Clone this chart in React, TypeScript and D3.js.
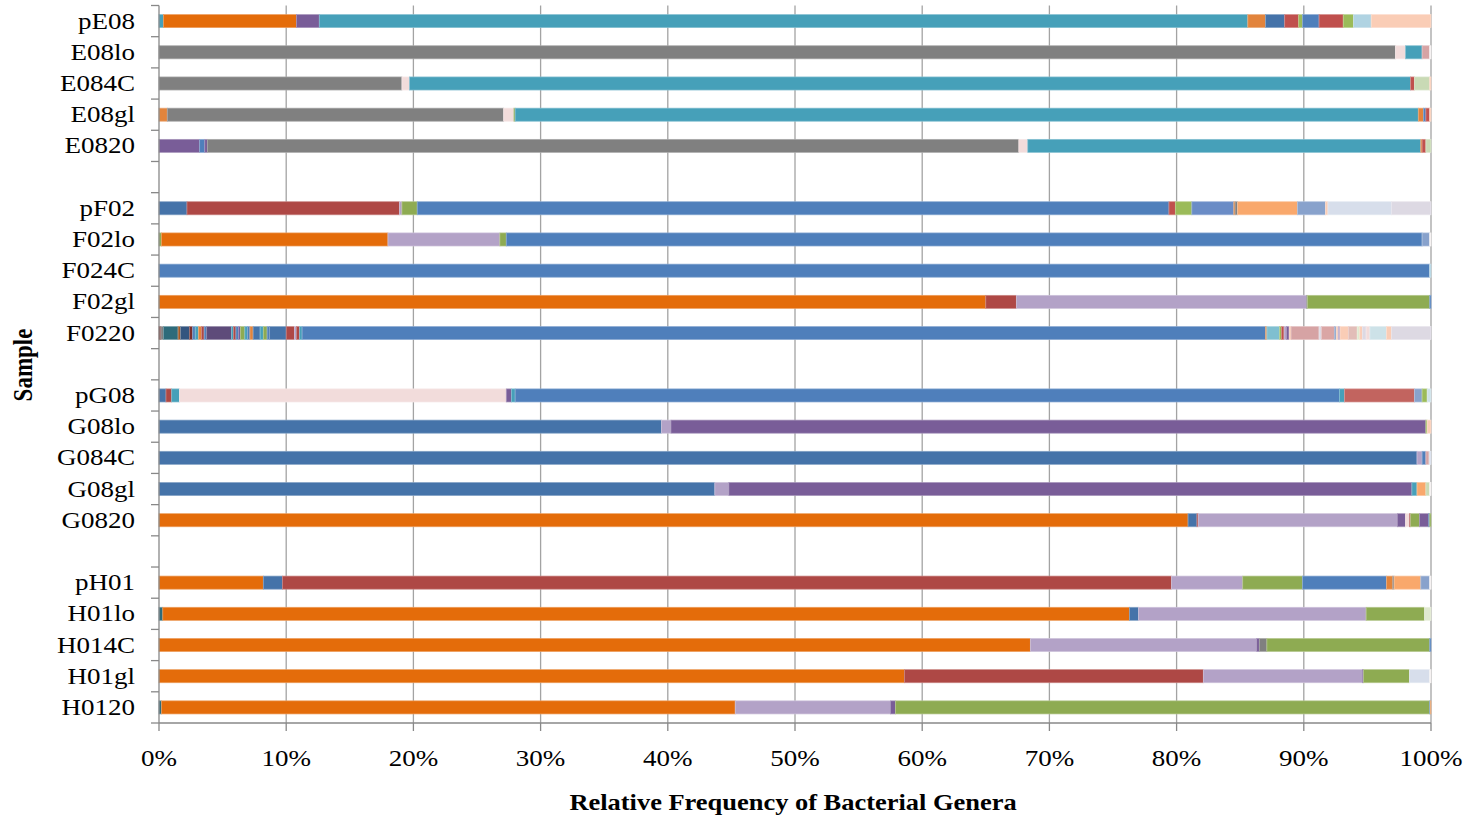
import React from "react";
import * as d3 from "d3";

// ---------- data ----------
const samples = [
  "pE08", "E08lo", "E084C", "E08gl", "E0820",
  "pF02", "F02lo", "F024C", "F02gl", "F0220",
  "pG08", "G08lo", "G084C", "G08gl", "G0820",
  "pH01", "H01lo", "H014C", "H01gl", "H0120",
];
const rowOrder = [
  "pE08", "E08lo", "E084C", "E08gl", "E0820", "gap1",
  "pF02", "F02lo", "F024C", "F02gl", "F0220", "gap2",
  "pG08", "G08lo", "G084C", "G08gl", "G0820", "gap3",
  "pH01", "H01lo", "H014C", "H01gl", "H0120",
];
const xTicks = [0, 10, 20, 30, 40, 50, 60, 70, 80, 90, 100];

const genusColors: Record<string, string> = {
  orange: "#E46C0A",
  orange2: "#E2843C",
  teal: "#46A0B9",
  purple: "#795D98",
  gray: "#808080",
  pink: "#F2DCDB",
  rose: "#D6A3A4",
  red: "#AE4845",
  red2: "#C0504D",
  red3: "#C2645F",
  green: "#8EAB52",
  green2: "#9BBB59",
  blue: "#4F7FBB",
  blueDark: "#4573A9",
  blueMid: "#6A8CC6",
  lightblue: "#88A2CC",
  lightblue2: "#B0D3E2",
  peach: "#FACDB6",
  lightorange: "#F9A86C",
  lightgreen: "#C9DAB5",
  paleblue: "#D7DEEB",
  palelilac: "#DDD9E3",
  lilac: "#B3A2C7",
  darkteal: "#2E6B7A",
  darkblue: "#34557F",
  darkpurple: "#5E4B7A",
  darkred: "#7B2E2C",
  brown: "#A35A27",
  tealLight: "#7FBFD0",
  rose2: "#DAA6A5",
  rosy: "#E2BDB8",
  paleteal: "#CDE2E8",
  palegreen: "#E0E9D0",
  pale: "#F4EFEF",
};

type Seg = [string, number];

const pE08: Seg[] = [["teal", 0.35], ["orange", 10.45], ["purple", 1.8], ["teal", 73.0], ["orange2", 1.4], ["blueDark", 1.5], ["red2", 1.1], ["green2", 0.3], ["blue", 1.3], ["red2", 1.9], ["green2", 0.8], ["lightblue2", 1.4], ["peach", 4.7]];
const E08lo: Seg[] = [["gray", 97.2], ["pink", 0.8], ["teal", 1.3], ["rose", 0.6], ["pale", 0.1]];
const E084C: Seg[] = [["gray", 19.1], ["pink", 0.6], ["teal", 78.7], ["red2", 0.3], ["lightgreen", 1.2], ["peach", 0.1]];
const E08gl: Seg[] = [["orange2", 0.65], ["gray", 26.45], ["pink", 0.8], ["green", 0.1], ["teal", 71.0], ["orange2", 0.4], ["blue", 0.2], ["red2", 0.3], ["peach", 0.1]];
const E0820: Seg[] = [["purple", 3.2], ["blue", 0.4], ["purple", 0.2], ["gray", 63.8], ["pink", 0.7], ["teal", 30.9], ["orange2", 0.1], ["red2", 0.3], ["lightgreen", 0.4]];

const pF02: Seg[] = [["blueDark", 2.2], ["red", 16.7], ["lilac", 0.2], ["green", 1.2], ["blue", 59.1], ["red2", 0.5], ["green2", 1.3], ["blueMid", 3.3], ["orange2", 0.1], ["gray", 0.2], ["lightorange", 4.7], ["lightblue", 2.2], ["peach", 0.2], ["paleblue", 5.0], ["palelilac", 3.1]];
const F02lo: Seg[] = [["green", 0.2], ["orange", 17.8], ["lilac", 8.8], ["green", 0.5], ["blue", 72.0], ["lightblue", 0.6], ["pale", 0.1]];
const F024C: Seg[] = [["blue", 99.9], ["lightblue2", 0.1]];
const F02gl: Seg[] = [["orange", 65.0], ["red", 2.4], ["lilac", 22.8], ["gray", 0.1], ["green", 9.6], ["blue", 0.1]];
const F0220: Seg[] = [
  ["darkred", 0.15], ["gray", 0.2], ["darkteal", 1.15], ["brown", 0.2], ["darkblue", 0.7], ["darkred", 0.25], ["blue", 0.2], ["teal", 0.25], ["orange2", 0.25], ["red", 0.2], ["blue", 0.2], ["darkpurple", 1.95], ["teal", 0.15], ["red", 0.2], ["blue", 0.2], ["purple", 0.15], ["green", 0.35], ["teal", 0.2], ["blue", 0.2], ["orange2", 0.25], ["blueDark", 0.55], ["teal", 0.25], ["green", 0.3], ["blue", 0.2], ["blueDark", 1.3], ["red", 0.65], ["lilac", 0.15], ["red", 0.25], ["teal", 0.2],
  ["blue", 75.75], ["orange2", 0.1], ["tealLight", 1.0], ["green2", 0.15], ["red2", 0.2], ["lilac", 0.2], ["purple", 0.2], ["peach", 0.15], ["rose", 2.2], ["palelilac", 0.2], ["rose2", 1.0], ["lightblue", 0.15], ["peach", 0.15], ["lilac", 0.15], ["peach", 0.65], ["rosy", 0.7], ["palegreen", 0.2], ["peach", 0.2], ["palelilac", 0.3], ["pink", 0.3], ["paleteal", 1.3], ["peach", 0.4], ["palelilac", 3.1],
];

const pG08: Seg[] = [["blueDark", 0.55], ["red", 0.45], ["teal", 0.6], ["pink", 25.7], ["purple", 0.4], ["teal", 0.3], ["blue", 64.8], ["teal", 0.4], ["red3", 5.5], ["lightblue", 0.6], ["green2", 0.4], ["paleteal", 0.3]];
const G08lo: Seg[] = [["blueDark", 39.5], ["lilac", 0.75], ["purple", 59.35], ["green2", 0.1], ["peach", 0.3]];
const G084C: Seg[] = [["blueDark", 98.9], ["lilac", 0.4], ["blue", 0.3], ["rose", 0.25], ["paleblue", 0.15]];
const G08gl: Seg[] = [["blueDark", 43.7], ["lilac", 1.1], ["purple", 53.7], ["teal", 0.4], ["lightorange", 0.7], ["lightgreen", 0.3], ["pale", 0.1]];
const G0820: Seg[] = [["orange", 80.9], ["blueDark", 0.7], ["red", 0.1], ["lilac", 15.65], ["purple", 0.65], ["pink", 0.3], ["red", 0.1], ["green", 0.7], ["purple", 0.7], ["blueDark", 0.1], ["green", 0.1]];

const pH01: Seg[] = [["orange", 8.2], ["blueDark", 1.5], ["red", 69.9], ["lilac", 5.6], ["green", 4.7], ["blue", 6.6], ["orange2", 0.5], ["gray", 0.1], ["lightorange", 2.1], ["lightblue", 0.7], ["pale", 0.1]];
const H01lo: Seg[] = [["darkteal", 0.3], ["orange", 76.0], ["blueDark", 0.7], ["lilac", 17.9], ["green", 4.6], ["palegreen", 0.5]];
const H014C: Seg[] = [["orange", 68.5], ["lilac", 17.8], ["purple", 0.2], ["gray", 0.6], ["green", 12.8], ["blue", 0.1]];
const H01gl: Seg[] = [["orange", 58.6], ["red", 23.5], ["lilac", 12.5], ["purple", 0.1], ["green", 3.6], ["paleblue", 1.6], ["pale", 0.1]];
const H0120: Seg[] = [["darkteal", 0.2], ["orange", 45.1], ["lilac", 12.2], ["purple", 0.4], ["green", 42.0], ["blue", 0.05], ["orange2", 0.05]];

const sampleSegments: Record<string, Seg[]> = {
  pE08, E08lo, E084C, E08gl, E0820,
  pF02, F02lo, F024C, F02gl, F0220,
  pG08, G08lo, G084C, G08gl, G0820,
  pH01, H01lo, H014C, H01gl, H0120,
};

// ---------- chart ----------
const W = 1467;
const H = 817;
const FONT = "'Liberation Serif', 'Times New Roman', Times, serif";
const SX = 1.15; // horizontal stretch of text in the reference
const FS = 23.5;

export default function App() {
  const x = d3.scaleLinear().domain([0, 100]).range([159, 1431]);
  const y = d3
    .scaleBand<string>()
    .domain(rowOrder)
    .range([5.5, 723])
    .paddingInner(0.58)
    .paddingOuter(0.29);
  const bw = y.bandwidth();
  const top = y.range()[0];
  const bottom = y.range()[1];
  const step = y.step();
  const boundaries = d3.range(rowOrder.length + 1).map((i) => top + i * step);

  const bars = samples.map((s) => {
    const segs = sampleSegments[s];
    const total = d3.sum(segs, (d) => d[1]);
    let acc = 0;
    const rects = segs.map(([key, v], i) => {
      const x0 = (acc / total) * 100;
      acc += v;
      const x1 = (acc / total) * 100;
      return { key, x0, x1, i };
    });
    return { s, rects };
  });

  return (
    <svg
      width={W}
      height={H}
      style={{ position: "absolute", left: 0, top: 0, background: "#fff" }}
      fontFamily={FONT}
    >
      <rect x={0} y={0} width={W} height={H} fill="#fff" />
      {/* gridlines */}
      {xTicks
        .filter((t) => t > 0)
        .map((t) => (
          <line key={"g" + t} x1={x(t)} x2={x(t)} y1={top} y2={bottom} stroke="#A3A3A3" strokeWidth={1.3} />
        ))}
      {/* bars */}
      {bars.map(({ s, rects }) => (
        <g key={s}>
          {rects.map((r) => {
            const fill = genusColors[r.key];
            const stroke = d3.interpolateRgb(fill, "#ffffff")(0.35);
            return (
              <rect
                key={r.i}
                x={x(r.x0)}
                y={y(s)!}
                width={Math.max(0, x(r.x1) - x(r.x0))}
                height={bw}
                fill={fill}
                stroke={stroke}
                strokeWidth={0.7}
              />
            );
          })}
        </g>
      ))}
      {/* left axis */}
      <line x1={x(0)} x2={x(0)} y1={top} y2={bottom} stroke="#888" strokeWidth={1.3} />
      {boundaries.map((b, i) => (
        <line key={"lt" + i} x1={x(0) - 8} x2={x(0)} y1={b} y2={b} stroke="#888" strokeWidth={1.3} />
      ))}
      {/* bottom axis */}
      <line x1={x(0)} x2={x(100)} y1={bottom} y2={bottom} stroke="#888" strokeWidth={1.3} />
      {xTicks.map((t) => (
        <line key={"bt" + t} x1={x(t)} x2={x(t)} y1={bottom} y2={bottom + 8} stroke="#888" strokeWidth={1.3} />
      ))}
      {/* x tick labels */}
      {xTicks.map((t) => (
        <text
          key={"xl" + t}
          transform={`translate(${x(t)},${766}) scale(${SX},1)`}
          textAnchor="middle"
          fontSize={FS}
          fill="#000"
        >
          {t + "%"}
        </text>
      ))}
      {/* y labels */}
      {samples.map((s) => (
        <text
          key={"yl" + s}
          transform={`translate(135,${y(s)! + bw / 2 + 7.5}) scale(${SX},1)`}
          textAnchor="end"
          fontSize={FS}
          fill="#000"
        >
          {s}
        </text>
      ))}
      {/* axis titles */}
      <text
        transform={`translate(793,810) scale(${SX},1)`}
        textAnchor="middle"
        fontSize={23}
        fontWeight="bold"
        fill="#000"
      >
        Relative Frequency of Bacterial Genera
      </text>
      <text
        transform={`translate(32,365) scale(${SX},1) rotate(-90)`}
        textAnchor="middle"
        fontSize={23}
        fontWeight="bold"
        fill="#000"
      >
        Sample
      </text>
    </svg>
  );
}
